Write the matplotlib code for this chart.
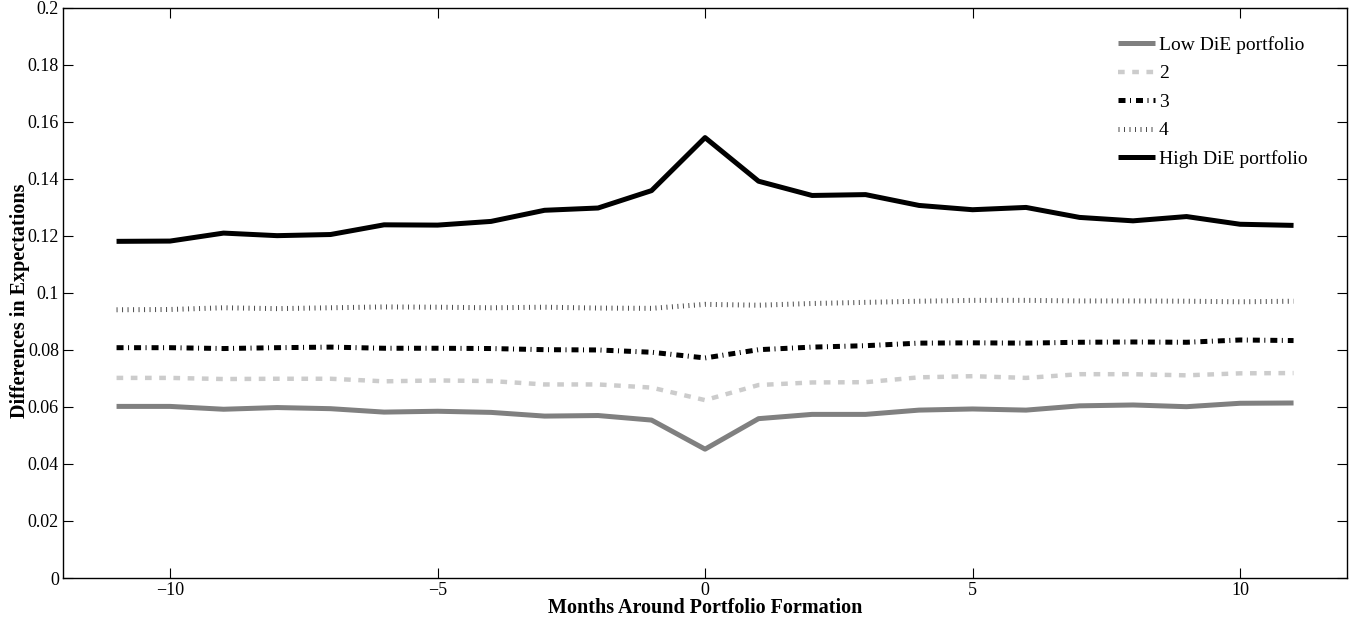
import matplotlib
matplotlib.use("Agg")
import matplotlib.pyplot as plt
from matplotlib.ticker import FuncFormatter

months = list(range(-11, 12))

low_die = [0.0602, 0.0602, 0.0592, 0.0598, 0.0594, 0.0582, 0.0585, 0.0581, 0.0568, 0.0570, 0.0554, 0.0452,
           0.0559, 0.0574, 0.0574, 0.0589, 0.0593, 0.0589, 0.0604, 0.0607, 0.0601, 0.0613, 0.0614]
port2 = [0.0702, 0.0702, 0.0698, 0.0699, 0.0699, 0.0690, 0.0693, 0.0691, 0.0679, 0.0679, 0.0668, 0.0624,
         0.0677, 0.0686, 0.0687, 0.0704, 0.0708, 0.0702, 0.0715, 0.0715, 0.0711, 0.0718, 0.0719]
port3 = [0.0808, 0.0808, 0.0805, 0.0808, 0.0810, 0.0806, 0.0806, 0.0805, 0.0801, 0.0800, 0.0792, 0.0772,
         0.0801, 0.0810, 0.0815, 0.0824, 0.0825, 0.0824, 0.0827, 0.0828, 0.0827, 0.0835, 0.0833]
port4 = [0.0941, 0.0942, 0.0948, 0.0945, 0.0948, 0.0951, 0.0950, 0.0948, 0.0950, 0.0947, 0.0946, 0.0960,
         0.0957, 0.0963, 0.0967, 0.0971, 0.0974, 0.0974, 0.0972, 0.0972, 0.0971, 0.0969, 0.0971]
high_die = [0.1181, 0.1182, 0.1210, 0.1201, 0.1205, 0.1239, 0.1238, 0.1251, 0.1290, 0.1298, 0.1359, 0.1545,
            0.1392, 0.1342, 0.1345, 0.1307, 0.1292, 0.1300, 0.1265, 0.1253, 0.1268, 0.1241, 0.1237]

labels = ["Low DiE portfolio", "2", "3", "4", "High DiE portfolio"]

plt.rcParams["font.family"] = ["Liberation Serif", "DejaVu Serif"]

fig = plt.figure(figsize=(13.53, 6.17), dpi=100)
ax = fig.add_axes([0.0466, 0.0632, 0.949, 0.924])

lw = 3.6
ax.plot(months, low_die, color="#808080", lw=lw, solid_capstyle="butt", label=labels[0])
ax.plot(months, port2, color="#cccccc", lw=3.2, dashes=(1.5, 1.7), dash_capstyle="butt", label=labels[1])
ax.plot(months, port3, color="black", lw=lw, dashes=(1.4, 0.9, 0.2, 1.0), dash_capstyle="butt", label=labels[2])
ax.plot(months, port4, color="#4d4d4d", lw=lw, dashes=(0.2, 0.9), dash_capstyle="butt", label=labels[3])
ax.plot(months, high_die, color="black", lw=lw, solid_capstyle="butt", label=labels[4])

ax.set_xlim(-12, 12)
ax.set_ylim(0, 0.2)
ax.set_xticks([-10, -5, 0, 5, 10])
ax.set_yticks([0.02 * i for i in range(11)])
ax.yaxis.set_major_formatter(FuncFormatter(lambda v, p: f"{v:.2f}".rstrip("0").rstrip(".") if v else "0"))
ax.tick_params(direction="in", top=True, right=True, length=7, width=0.8, labelsize=13, pad=3)
for s in ax.spines.values():
    s.set_linewidth(1.0)

# xlabel sits right under the tick labels, as in the original
ax.set_xlabel("Months Around Portfolio Formation", fontweight="bold", fontsize=14.5)
ax.xaxis.set_label_coords(0.5, -0.035)
ax.set_ylabel("Differences in Expectations", fontweight="bold", fontsize=14.5)
ax.yaxis.set_label_coords(-0.026, 0.487)

ax.legend(loc="upper left", frameon=False, fontsize=14, handlelength=1.9, handletextpad=0.2,
          labelspacing=0.56, borderpad=0, borderaxespad=0,
          bbox_to_anchor=(1118 / 1353, 1 - 36 / 617), bbox_transform=fig.transFigure)

fig.savefig("out.png", dpi=100)
